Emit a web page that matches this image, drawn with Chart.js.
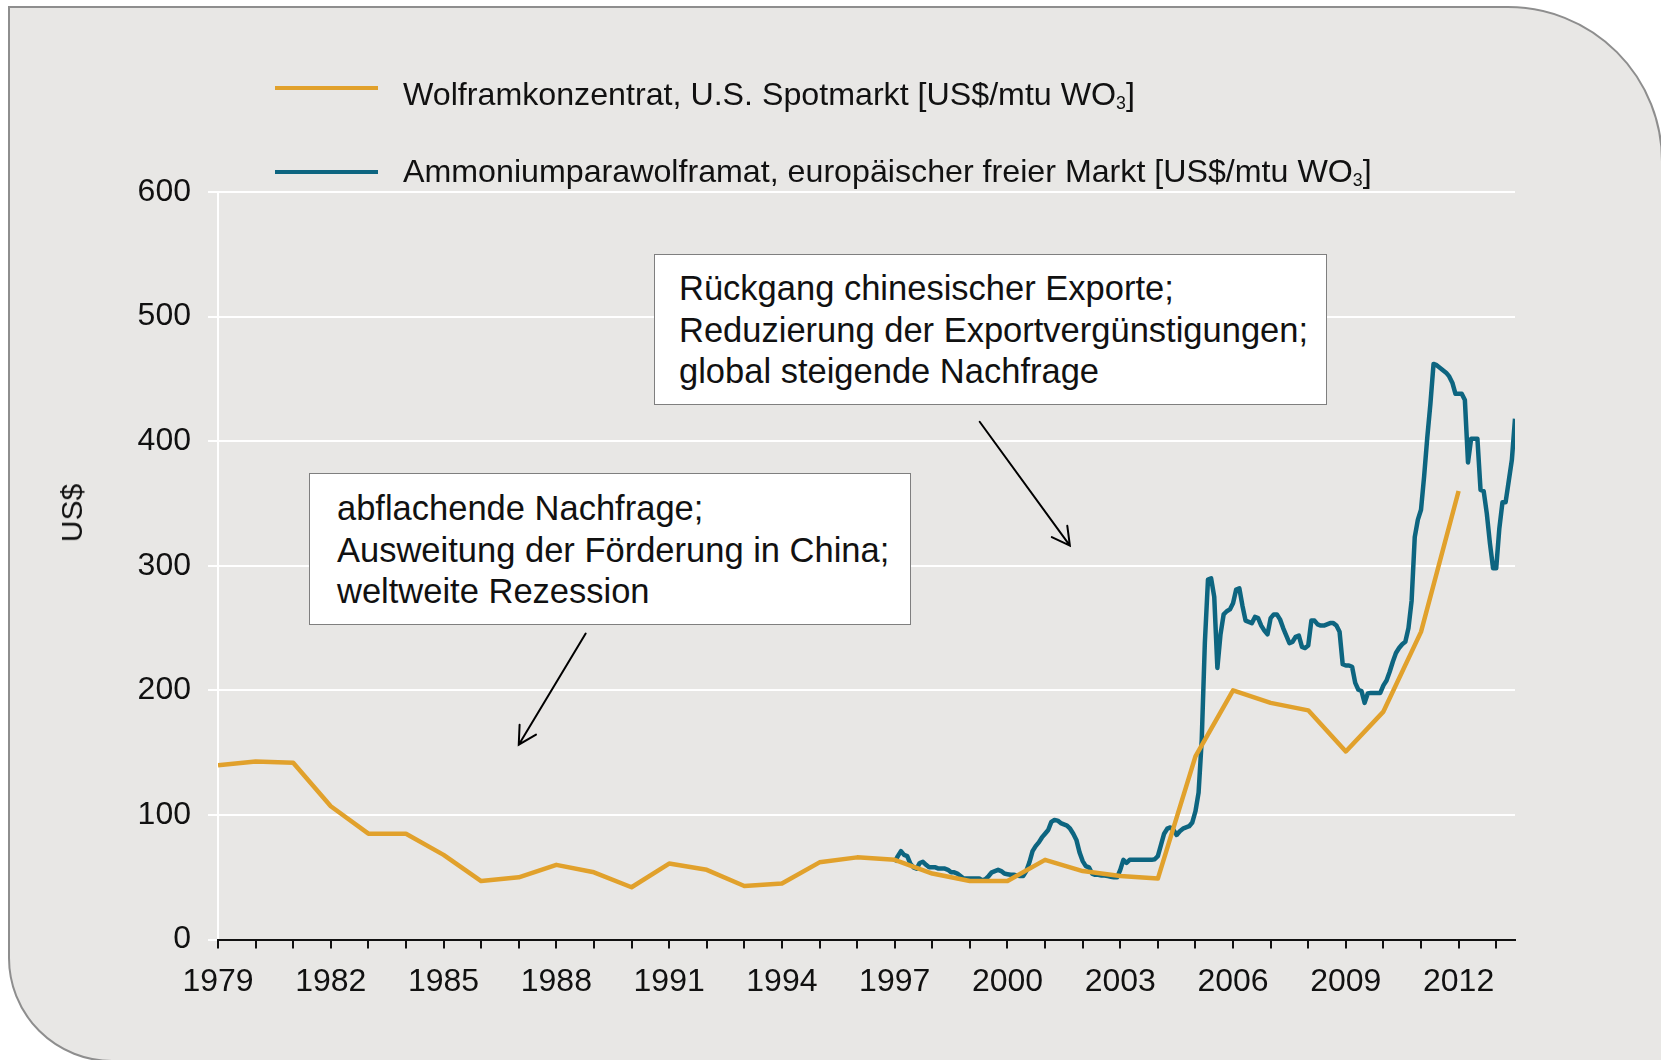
<!DOCTYPE html>
<html lang="de">
<head>
<meta charset="utf-8">
<title>Wolframpreise</title>
<script src="https://cdn.jsdelivr.net/npm/chart.js@4.4.0/dist/chart.umd.min.js"></script>
<style>
  html, body { margin: 0; padding: 0; background: #fff; overflow: hidden; }
  #wrap {
    position: relative; width: 1661px; height: 1060px; overflow: hidden;
    font-family: "Liberation Sans", Arial, sans-serif; color: #111;
  }
  #frame {
    position: absolute; left: 8px; top: 6px; width: 1651px; height: 1052px;
    background: #e8e7e5; border: 2px solid #8e8e8e;
    border-radius: 0 155px 0 104px;
  }
  #chart { position: absolute; left: 0; top: 0; }
  .swatch { position: absolute; left: 275px; width: 103px; height: 4px; }
  .legtext { position: absolute; left: 403px; font-size: 32.2px; line-height: 36px; white-space: nowrap; }
  .legtext sub { font-size: 0.55em; vertical-align: -0.22em; line-height: 0; }
  .note {
    position: absolute; background: #fff; border: 1px solid #7f7f7f;
    box-sizing: border-box; font-size: 34.5px; line-height: 41.5px; white-space: nowrap;
  }
  #ytitle {
    position: absolute; left: 72px; top: 513px; font-size: 30px;
    transform: translate(-50%, -50%) rotate(-90deg); white-space: nowrap;
  }
</style>
</head>
<body>
<div id="wrap">
  <div id="frame"></div>
  <canvas id="chart" width="1661" height="1060"></canvas>

  <div class="swatch" style="top:86px; background:#e1a12c;"></div>
  <div class="legtext" style="top:76px;">Wolframkonzentrat, U.S. Spotmarkt [US$/mtu WO<sub>3</sub>]</div>
  <div class="swatch" style="top:170px; background:#0d6580;"></div>
  <div class="legtext" style="top:153px;">Ammoniumparawolframat, europäischer freier Markt [US$/mtu WO<sub>3</sub>]</div>

  <div id="ytitle">US$</div>

  <div class="note" style="left:309px; top:473px; width:602px; height:152px; padding:14px 0 0 27px;">
    abflachende Nachfrage;<br>Ausweitung der Förderung in China;<br>weltweite Rezession
  </div>
  <div class="note" style="left:654px; top:254px; width:673px; height:151px; padding:13px 0 0 24px;">
    Rückgang chinesischer Exporte;<br>Reduzierung der Exportvergünstigungen;<br>global steigende Nachfrage
  </div>
</div>

<script>
/* ---------- data ---------- */
const years = [1979, 1980, 1981, 1982, 1983, 1984, 1985, 1986, 1987, 1988, 1989,
  1990, 1991, 1992, 1993, 1994, 1995, 1996, 1997, 1998, 1999, 2000, 2001, 2002,
  2003, 2004, 2005, 2006, 2007, 2008, 2009, 2010, 2011, 2012];

// Wolframkonzentrat, U.S. Spotmarkt (Jahreswerte)
const wolframSpot = [140, 143, 142, 107, 85, 85, 68, 47, 50, 60, 54,
  42, 61, 56, 43, 45, 62, 66, 64, 53, 47, 47, 64, 55,
  51, 49, 147, 200, 190, 184, 151, 183, 247, 360];

// APT, europäischer freier Markt (Monatswerte ab Jan 1997)
const aptStartYear = 1997;
const aptMonthly = [
  62, 67, 71, 68, 67, 61, 58, 57, 61.5, 62.5, 60, 58,          // 1997
  58, 58, 57, 57, 57, 56, 54, 54, 53, 51, 49, 49,              // 1998
  49, 49, 49, 49, 47.5, 48.5, 51, 54, 55, 56, 55, 53,          // 1999
  52.5, 52, 52, 51.5, 51, 51, 55, 62, 71, 75, 78, 82,          // 2000
  85, 88, 94.5, 96, 95.5, 93.5, 92.5, 91.5, 89, 85, 80, 70,    // 2001
  63, 59, 58, 53, 52, 52, 51.5, 51.5, 51, 50.5, 50, 50,        // 2002
  56, 64, 61.5, 64, 64, 64, 64, 64, 64, 64, 64, 64.5,          // 2003
  67, 76, 85, 89, 90, 88, 84, 87, 89, 90, 91, 94,              // 2004
  103, 118, 160, 238, 289, 290, 275, 218, 245, 261, 263.5, 265, // 2005
  270, 281, 282, 268, 256, 255, 254, 259, 258, 252, 248, 245,  // 2006
  258, 261, 261, 257, 250, 244, 238, 239, 243, 244, 235, 234,  // 2007
  236, 256, 256, 253, 252, 252, 253, 254, 254, 252, 247, 221,  // 2008
  220, 220, 219, 206, 200.5, 199.5, 190, 197.5, 198, 198, 198, 198, // 2009
  204, 208, 215, 223, 230, 234, 237, 239, 250, 272, 323, 337,  // 2010
  345, 372, 403, 430, 462, 461, 459, 457, 455, 452, 447, 438,  // 2011
  438, 438, 433, 383, 402, 402, 402, 361, 360, 342, 318, 298,  // 2012
  298, 330, 351, 351, 368, 385, 418                            // 2013
];

const yTickValues = [0, 100, 200, 300, 400, 500, 600];
const xTickYears = [];
for (let y = 1979; y <= 2013; y++) xTickYears.push(y);
const xLabelYears = [1979, 1982, 1985, 1988, 1991, 1994, 1997, 2000, 2003, 2006, 2009, 2012];

/* ---------- arrows (annotation, data space) ---------- */
const arrows = [
  { from: [1988.78, 245.6], to: [1987.0, 156.4] },
  { from: [1999.26, 415.6], to: [2001.66, 316.2] }
];

const arrowPlugin = {
  id: "arrows",
  afterDatasetsDraw(chart) {
    const { ctx, scales: { x, y } } = chart;
    ctx.save();
    ctx.strokeStyle = "#000";
    ctx.lineWidth = 2;
    ctx.lineCap = "round";
    arrows.forEach(a => {
      const x1 = x.getPixelForValue(a.from[0]), y1 = y.getPixelForValue(a.from[1]);
      const x2 = x.getPixelForValue(a.to[0]), y2 = y.getPixelForValue(a.to[1]);
      const ang = Math.atan2(y2 - y1, x2 - x1);
      const len = 20, spread = 0.5;
      ctx.beginPath();
      ctx.moveTo(x1, y1);
      ctx.lineTo(x2, y2);
      ctx.moveTo(x2 - len * Math.cos(ang - spread), y2 - len * Math.sin(ang - spread));
      ctx.lineTo(x2, y2);
      ctx.lineTo(x2 - len * Math.cos(ang + spread), y2 - len * Math.sin(ang + spread));
      ctx.stroke();
    });
    ctx.restore();
  }
};

/* ---------- chart ---------- */
const FONT = "'Liberation Sans', Arial, sans-serif";

new Chart(document.getElementById("chart"), {
  type: "line",
  data: {
    datasets: [
      {
        label: "Wolframkonzentrat, U.S. Spotmarkt",
        data: years.map((yr, i) => ({ x: yr, y: wolframSpot[i] })),
        borderColor: "#e1a12c",
        borderWidth: 4.5,
        pointRadius: 0,
        tension: 0,
        borderJoinStyle: "round"
      },
      {
        label: "Ammoniumparawolframat, europäischer freier Markt",
        data: aptMonthly.map((v, i) => ({ x: aptStartYear + i / 12, y: v })),
        borderColor: "#0d6580",
        borderWidth: 4.5,
        pointRadius: 0,
        tension: 0,
        borderJoinStyle: "round"
      }
    ]
  },
  options: {
    responsive: false,
    animation: false,
    devicePixelRatio: 1,
    layout: { padding: { top: 192, right: 146, left: 0, bottom: 0 } },
    plugins: { legend: { display: false }, tooltip: { enabled: false } },
    scales: {
      x: {
        type: "linear",
        min: 1979,
        max: 2013.5,
        afterBuildTicks: s => { s.ticks = xTickYears.map(v => ({ value: v })); },
        afterFit: s => { s.height = 120.4; },
        grid: { drawOnChartArea: false, drawTicks: true, tickLength: 9, color: "#111", lineWidth: 2 },
        border: { display: true, color: "#111", width: 2, z: 1 },
        ticks: {
          autoSkip: false, maxRotation: 0, padding: 14, color: "#111",
          font: { family: FONT, size: 32 },
          callback: v => xLabelYears.includes(v) ? String(v) : ""
        }
      },
      y: {
        min: 0,
        max: 600,
        afterBuildTicks: s => { s.ticks = yTickValues.map(v => ({ value: v })); },
        afterFit: s => { s.width = 218; },
        grid: { color: "#fff", lineWidth: 2, tickLength: 10 },
        border: { display: true, color: "#fff", width: 2 },
        ticks: { padding: 17, color: "#111", font: { family: FONT, size: 32 } }
      }
    }
  },
  plugins: [arrowPlugin]
});
</script>
</body>
</html>
